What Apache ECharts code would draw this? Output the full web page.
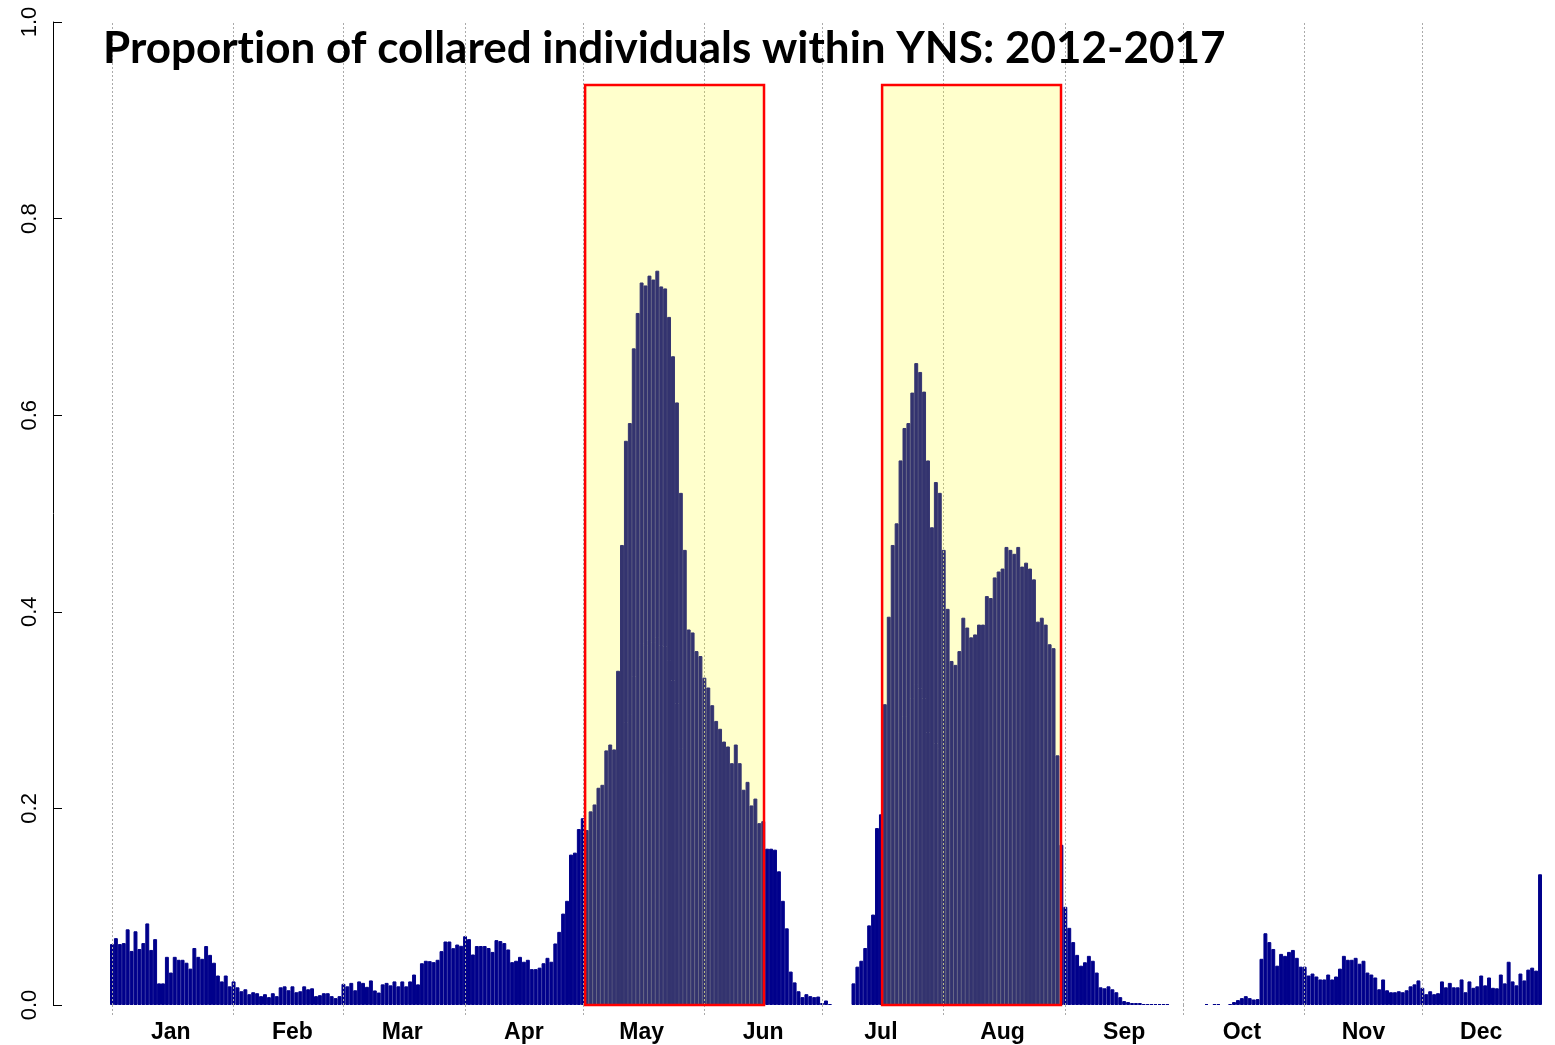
<!DOCTYPE html>
<html>
<head>
<meta charset="utf-8">
<script src="https://cdn.jsdelivr.net/npm/echarts@6/dist/echarts.min.js"></script>
<style>
  html, body { margin: 0; padding: 0; background: #fff; }
  #chart { width: 1555px; height: 1045px; }
</style>
</head>
<body>
<div id="chart"></div>
<script>
// month names and lengths
const monthNames = ['Jan', 'Feb', 'Mar', 'Apr', 'May', 'Jun', 'Jul', 'Aug', 'Sep', 'Oct', 'Nov', 'Dec'];
const monthDays = [31, 28, 31, 30, 31, 30, 31, 31, 30, 31, 30, 31];

// daily proportion of collared individuals inside YNS, one array per month
const jan = [0.062, 0.068, 0.062, 0.063, 0.077, 0.055, 0.075, 0.057, 0.063, 0.083, 0.056, 0.067, 0.022, 0.022, 0.049, 0.033,
  0.049, 0.046, 0.046, 0.043, 0.037, 0.058, 0.049, 0.047, 0.060, 0.051, 0.043, 0.030, 0.024, 0.030, 0.019];
const feb = [0.024, 0.018, 0.014, 0.016, 0.011, 0.013, 0.012, 0.009, 0.011, 0.008, 0.012, 0.009, 0.018, 0.019,
  0.015, 0.019, 0.013, 0.014, 0.019, 0.016, 0.017, 0.009, 0.010, 0.012, 0.012, 0.009, 0.007, 0.009];
const mar = [0.0215, 0.019, 0.0225, 0.015, 0.024, 0.0225, 0.0185, 0.025, 0.0148, 0.0127, 0.021, 0.0225, 0.020, 0.024, 0.019, 0.024,
  0.019, 0.024, 0.031, 0.021, 0.0425, 0.045, 0.0446, 0.0436, 0.046, 0.0548, 0.0646, 0.0646, 0.0578, 0.0615, 0.0602];
const apr = [0.070, 0.067, 0.0514, 0.060, 0.060, 0.060, 0.058, 0.054, 0.066, 0.065, 0.063, 0.0565, 0.0436, 0.045, 0.049,
  0.044, 0.046, 0.0365, 0.0365, 0.038, 0.0425, 0.048, 0.044, 0.0626, 0.0744, 0.093, 0.106, 0.153, 0.155, 0.179];
const may = [0.19, 0.178, 0.197, 0.204, 0.221, 0.224, 0.259, 0.265, 0.260, 0.340, 0.468, 0.574, 0.592, 0.668, 0.704, 0.735,
  0.732, 0.742, 0.738, 0.747, 0.731, 0.729, 0.70, 0.66, 0.613, 0.521, 0.463, 0.382, 0.379, 0.360, 0.355];
const jun = [0.333, 0.323, 0.305, 0.289, 0.281, 0.268, 0.263, 0.246, 0.265, 0.246, 0.219, 0.227, 0.203, 0.210, 0.185,
  0.187, 0.159, 0.159, 0.158, 0.136, 0.106, 0.078, 0.034, 0.023, 0.014, 0.008, 0.011, 0.009, 0.008, 0.0086];
const jul = [0.002, 0.0046, 0.001, 0, 0, 0, 0, 0, 0.022, 0.039, 0.045, 0.058, 0.081, 0.092, 0.180, 0.194,
  0.306, 0.395, 0.468, 0.490, 0.554, 0.587, 0.592, 0.623, 0.653, 0.644, 0.624, 0.554, 0.486, 0.532, 0.521];
const aug = [0.463, 0.403, 0.350, 0.346, 0.36, 0.394, 0.384, 0.374, 0.377, 0.387, 0.387, 0.416, 0.414, 0.435, 0.441, 0.444,
  0.466, 0.463, 0.459, 0.466, 0.446, 0.45, 0.444, 0.433, 0.39, 0.394, 0.387, 0.367, 0.363, 0.254, 0.163];
const sep = [0.0999, 0.0785, 0.064, 0.051, 0.040, 0.0435, 0.050, 0.045, 0.033, 0.018, 0.017, 0.019, 0.016, 0.013, 0.008,
  0.004, 0.003, 0.002, 0.002, 0.002, 0.001, 0.001, 0.001, 0.001, 0.001, 0.001, 0.001, 0, 0, 0];
const oct = [0, 0, 0, 0, 0, 0, 0.001, 0, 0.001, 0.001, 0, 0, 0.001, 0.003, 0.005, 0.007,
  0.009, 0.007, 0.0056, 0.006, 0.047, 0.073, 0.064, 0.057, 0.040, 0.052, 0.050, 0.054, 0.056, 0.048, 0.039];
const nov = [0.039, 0.030, 0.032, 0.029, 0.026, 0.026, 0.031, 0.026, 0.029, 0.037, 0.050, 0.046, 0.046, 0.048, 0.042,
  0.045, 0.033, 0.031, 0.028, 0.016, 0.026, 0.015, 0.013, 0.013, 0.014, 0.013, 0.015, 0.019, 0.021, 0.025];
const dec = [0.0175, 0.011, 0.014, 0.011, 0.012, 0.024, 0.018, 0.0225, 0.018, 0.018, 0.026, 0.013, 0.024, 0.0175, 0.019, 0.030,
  0.020, 0.028, 0.0175, 0.017, 0.031, 0.022, 0.044, 0.024, 0.020, 0.032, 0.025, 0.036, 0.038, 0.035, 0.133];

// highlighted periods, in day-of-year units (start, end), and their height
const seasonBoxes = [[121.1, 166.7], [196.8, 242.4]];
const boxTop = 0.936;

const values = [].concat(jan, feb, mar, apr, may, jun, jul, aug, sep, oct, nov, dec);

// one category per day, e.g. "Jan 1"
const days = [];
const monthStarts = [];
monthNames.forEach((m, k) => {
  monthStarts.push(days.length);
  for (let d = 1; d <= monthDays[k]; d++) days.push(m + ' ' + d);
});
// month label sits in the middle of the month
const labelDays = monthStarts.map(i => i + 15);

const myChart = echarts.init(document.getElementById('chart'));

const option = {
  animation: false,
  title: {
    // split in two runs so the font does not draw a "ti" ligature
    text: '{t|Proport}{t|ion of collared individuals within YNS: 2012-2017}',
    left: 103,
    top: 27,
    padding: 0,
    textStyle: {
      rich: {
        t: { fontFamily: 'Lato', fontWeight: 'bold', fontSize: 44, color: '#000' }
      }
    }
  },
  grid: { left: 110, right: 13, top: 22, bottom: 40 },
  xAxis: [
    {
      type: 'category',
      data: days,
      boundaryGap: true,
      axisLine: { show: false, onZero: false },
      axisTick: {
        show: true,
        alignWithLabel: true,
        interval: (i) => monthStarts.includes(i),
        length: 10,
        lineStyle: { color: '#aaa', type: [2, 2] }
      },
      axisLabel: {
        interval: (i) => labelDays.includes(i),
        formatter: (v) => v.split(' ')[0],
        fontFamily: 'Liberation Sans',
        fontWeight: 'bold',
        fontSize: 23,
        color: '#000',
        margin: 16
      },
      splitLine: { show: false }
    },
    // hidden day-of-year axis for the highlighted boxes
    { type: 'value', min: 0, max: 365, show: false }
  ],
  yAxis: {
    type: 'value',
    min: 0,
    max: 1,
    interval: 0.2,
    position: 'left',
    offset: 57,
    axisLine: { show: true, onZero: false, lineStyle: { color: '#000', width: 1 } },
    axisTick: { show: true, inside: true, length: 9, lineStyle: { color: '#000' } },
    axisLabel: {
      rotate: 90,
      margin: 12,
      formatter: (v) => v.toFixed(1),
      fontFamily: 'Liberation Sans',
      fontSize: 22,
      color: '#000'
    },
    splitLine: { show: false }
  },
  series: [
    {
      type: 'bar',
      // empty days get no bar at all
      data: values.map(v => (v === 0 ? '-' : v)),
      barCategoryGap: '0%',
      itemStyle: { color: '#00008B', borderColor: '#00008B', borderWidth: 1 },
      z: 2,
      markLine: {
        silent: true,
        symbol: 'none',
        label: { show: false },
        lineStyle: { color: '#aaa', type: [2, 2], width: 1 },
        data: monthStarts.map(i => ({ xAxis: i }))
      }
    },
    {
      type: 'line',
      xAxisIndex: 1,
      data: [],
      z: 6,
      markArea: {
        z: 6,
        silent: true,
        itemStyle: { color: 'rgba(255,255,0,0.2)', borderColor: '#ff0000', borderWidth: 2.5 },
        data: seasonBoxes.map(b => [{ xAxis: b[0], yAxis: 0 }, { xAxis: b[1], yAxis: boxTop }])
      }
    }
  ]
};

myChart.setOption(option);
window.addEventListener('resize', () => { myChart.resize() });
</script>
</body>
</html>
